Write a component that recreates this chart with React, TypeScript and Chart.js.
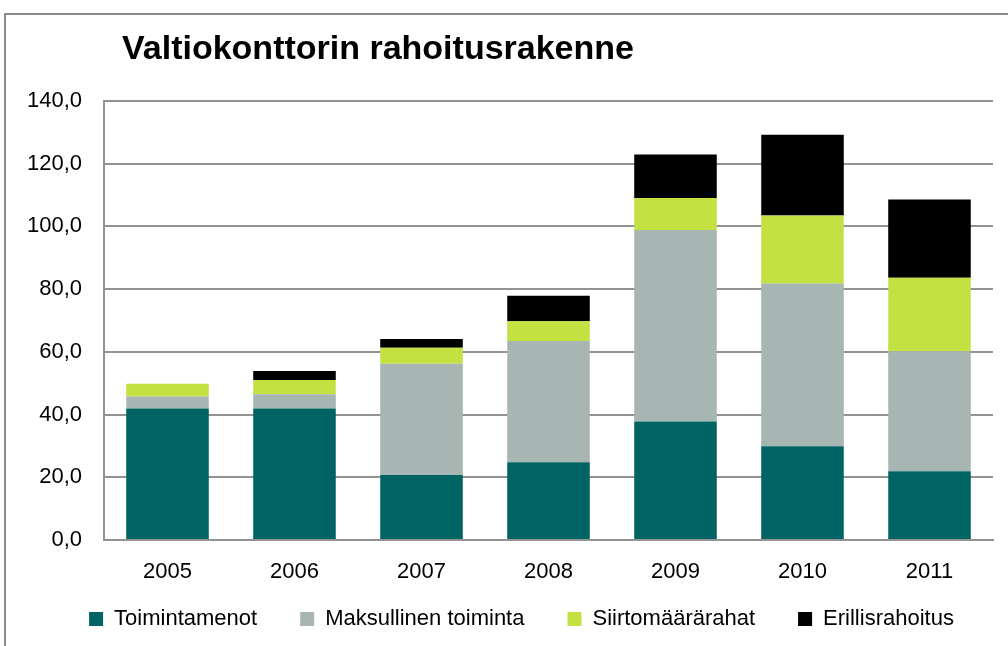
import React, { useEffect, useRef } from 'react';
import { Chart, registerables } from 'chart.js';

Chart.register(...registerables);

const TITLE = 'Valtiokonttorin rahoitusrakenne';
const categories = ['2005', '2006', '2007', '2008', '2009', '2010', '2011'];
const toimintamenot = [41.9, 41.9, 20.7, 24.8, 37.8, 29.9, 21.9];
const maksullinenToiminta = [3.9, 4.6, 35.5, 38.7, 61.1, 51.9, 38.3];
const siirtomaararahat = [4.0, 4.5, 5.1, 6.3, 10.2, 21.7, 23.4];
const erillisrahoitus = [0, 2.9, 2.8, 8.1, 13.8, 25.7, 25.0];
const seriesNames = ['Toimintamenot', 'Maksullinen toiminta', 'Siirtomäärärahat', 'Erillisrahoitus'];
const seriesColors = ['#006464', '#A7B6B2', '#C4E142', '#000000'];

const FONT = "'Liberation Sans', Arial, sans-serif";
const GRID = '#939393';

export default function App() {
  const ref = useRef<HTMLCanvasElement>(null);

  useEffect(() => {
    const canvas = ref.current;
    if (!canvas) return;
    const titlePlugin = {
      id: 'leftTitle',
      afterDraw(chart: any) {
        const ctx = chart.ctx;
        ctx.save();
        ctx.font = `bold 34px ${FONT}`;
        ctx.fillStyle = '#000';
        ctx.textBaseline = 'alphabetic';
        ctx.textAlign = 'left';
        ctx.fillText(TITLE, 122, 59);
        ctx.restore();
      },
    };
    const legendShift = {
      id: 'legendShift',
      afterLayout(chart: any) {
        const lg = chart.legend;
        if (!lg) return;
        lg.top -= 20;
        lg.bottom -= 20;
        lg.left += 25;
        lg.right += 25;
      },
    };
    const values = [toimintamenot, maksullinenToiminta, siirtomaararahat, erillisrahoitus];
    const chart = new Chart(canvas, {
      type: 'bar',
      data: {
        labels: categories,
        datasets: values.map((d, i) => ({
          label: seriesNames[i],
          data: d,
          backgroundColor: seriesColors[i],
          borderWidth: 0,
          barPercentage: 0.65,
          categoryPercentage: 1,
        })),
      },
      options: {
        responsive: false,
        animation: false,
        devicePixelRatio: 1,
        layout: { padding: { top: 101, right: 15, left: 0, bottom: 0 } },
        plugins: {
          legend: {
            position: 'bottom',
            labels: {
              boxWidth: 14,
              boxHeight: 14,
              padding: 43,
              color: '#000',
              font: { size: 22, family: FONT },
            },
          },
          tooltip: { enabled: false },
          title: { display: false },
        },
        scales: {
          x: {
            stacked: true,
            grid: { display: false, drawTicks: false },
            border: { display: true, color: GRID, width: 2 },
            ticks: { color: '#000', font: { size: 22, family: FONT }, padding: 19 },
            afterFit: (s: any) => {
              s.height = 45;
            },
          },
          y: {
            stacked: true,
            min: 0,
            max: 140,
            ticks: {
              stepSize: 20,
              padding: 22,
              color: '#000',
              font: { size: 22, family: FONT },
              callback: (v: any) => Number(v).toFixed(1).replace('.', ','),
            },
            grid: { color: GRID, lineWidth: 2, drawTicks: false },
            border: { display: true, color: GRID, width: 2 },
            afterFit: (s: any) => {
              s.width = 104;
            },
          },
        },
      },
      plugins: [titlePlugin, legendShift],
    } as any);
    return () => chart.destroy();
  }, []);

  return (
    <div
      style={{
        position: 'fixed',
        left: 0,
        top: 0,
        width: 1008,
        height: 646,
        overflow: 'hidden',
        background: '#fff',
      }}
    >
      <div
        style={{
          position: 'absolute',
          left: 4,
          top: 13,
          width: 1010,
          height: 640,
          borderLeft: '2px solid #8a8a8a',
          borderTop: '2px solid #8a8a8a',
        }}
      />
      <canvas
        ref={ref}
        width={1008}
        height={660}
        style={{ position: 'absolute', left: 0, top: 0, display: 'block' }}
      />
    </div>
  );
}
